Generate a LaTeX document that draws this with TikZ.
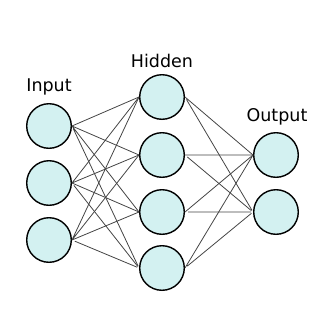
\documentclass[tikz,border=0pt]{standalone}
\usepackage{fontspec}
\setmainfont{DejaVu Sans}
\usepackage{tikz}
\definecolor{cellfill}{HTML}{D3F1F1}
\definecolor{wire}{HTML}{444444}

\begin{document}
\begin{tikzpicture}[x=1pt, y=-1pt,
  neuron/.style={circle, draw=black, line width=1.4pt, fill=cellfill,
                 minimum size=44.6pt, inner sep=0pt},
  lab/.style={font=\fontsize{17.5}{20}\selectfont, anchor=base},
  conn/.style={draw=wire, line width=0.8pt, shorten <=3pt, shorten >=2pt}]
  \useasboundingbox (0,0) rectangle (329,333);
  % layer titles
  \node[lab] (tin) at (49,91.7) {Input};
  \node[lab] (thid) at (162,67.3) {Hidden};
  \node[lab] (tout) at (277,121.7) {Output};
  % input layer
  \node[neuron] (in1) at (49,126) {};
  \node[neuron] (in2) at (49,183) {};
  \node[neuron] (in3) at (49,240) {};
  % hidden layer
  \node[neuron] (h1) at (162,97) {};
  \node[neuron] (h2) at (162,155) {};
  \node[neuron] (h3) at (162,212) {};
  \node[neuron] (h4) at (162,268) {};
  % output layer
  \node[neuron] (o1) at (276,155) {};
  \node[neuron] (o2) at (276,212) {};
  % input -> hidden
  \draw[conn] (in1.east) -- (h1.west) (in1.east) -- (h2.west) (in1.east) -- (h3.west) (in1.east) -- (h4.west);
  \draw[conn] (in2.east) -- (h1.west) (in2.east) -- (h2.west) (in2.east) -- (h3.west) (in2.east) -- (h4.west);
  \draw[conn] (in3.east) -- (h1.west) (in3.east) -- (h2.west) (in3.east) -- (h3.west) (in3.east) -- (h4.west);
  % hidden -> output
  \draw[conn] (h1.east) -- (o1.west) (h1.east) -- (o2.west);
  \draw[conn] (h2.east) -- (o1.west) (h2.east) -- (o2.west);
  \draw[conn] (h3.east) -- (o1.west) (h3.east) -- (o2.west);
  \draw[conn] (h4.east) -- (o1.west) (h4.east) -- (o2.west);
\end{tikzpicture}
\end{document}
